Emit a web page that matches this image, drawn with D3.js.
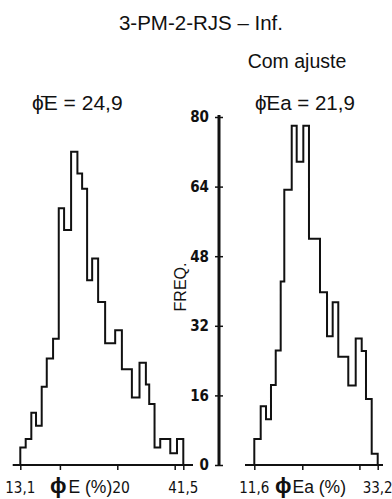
<!DOCTYPE html>
<html>
<head>
<meta charset="utf-8">
<script src="https://cdn.jsdelivr.net/npm/d3@7"></script>
<style>
  html, body { margin: 0; padding: 0; background: #fff; }
  svg { display: block; }
  .main { font-family: "Liberation Sans", Arial, sans-serif; fill: #111; }
  .narrow { font-family: "Liberation Sans Narrow", "DejaVu Sans Condensed", "Liberation Sans", sans-serif; fill: #111; }
</style>
</head>
<body>
<svg id="chart" width="392" height="499"></svg>
<script>
// Porosity histograms, well 3-PM-2-RJS (lower interval)
// Left: effective porosity phiE; right: adjusted phiEa. Bin edges in %, counts per bin.
const leftEdges = [13.1, 14.04, 15.02, 15.84, 16.83, 17.71, 18.81, 19.80, 20.73, 21.95,
                   23.05, 23.87, 24.74, 25.62, 26.66, 27.88, 29.63, 30.80, 32.54, 33.87,
                   34.98, 35.56, 36.49, 37.48, 39.23, 40.40, 41.5];
const leftFreq  = [4, 6, 12, 9, 18, 24.5, 29, 59, 54, 72,
                   67, 63.5, 42.5, 47.5, 37.5, 28, 31, 22, 15.5, 23.5,
                   18.5, 14, 4, 6, 2.7, 6];

const rightEdges = [11.6, 12.72, 13.65, 14.52, 15.35, 16.22, 16.85, 18.15, 19.02, 20.18,
                    21.17, 23.10, 24.33, 25.32, 26.30, 28.05, 29.35, 30.40, 31.15, 32.15, 33.2];
const rightFreq  = [6, 13.5, 10.5, 18.4, 26.3, 42.2, 63.3, 78, 69.7, 78,
                    52, 39.7, 29.6, 37.4, 24.9, 18.3, 29.1, 26.2, 15.2, 2.6];

const freqTicks = [0, 16, 32, 48, 64, 80];
const leftTicks = [13.1, 20, 30, 40, 41.5];
const rightTicks = [11.6, 20, 30, 33.2];

const svg = d3.select("#chart");

const y = d3.scaleLinear().domain([0, 80]).range([465, 117]);
const xL = d3.scaleLinear().domain([13.1, 41.5]).range([20.3, 183.3]);
const xR = d3.scaleLinear().domain([11.6, 33.2]).range([254.3, 377.7]);

// step outline of a histogram from its edges and counts
function stepPoints(edges, freq) {
  const pts = [[edges[0], 0]];
  freq.forEach((f, i) => { pts.push([edges[i], f]); pts.push([edges[i + 1], f]); });
  pts.push([edges[edges.length - 1], 0]);
  return pts;
}

function histogram(x, edges, freq) {
  const line = d3.line().x(d => x(d[0])).y(d => y(d[1]));
  svg.append("path")
    .attr("d", line(stepPoints(edges, freq)))
    .attr("fill", "none")
    .attr("stroke", "#111")
    .attr("stroke-width", 2)
    .attr("stroke-linejoin", "miter");
}

function baseAxis(x, ticks, x0, x1, labels) {
  const g = svg.append("g").attr("transform", `translate(0,${y(0)})`);
  g.call(d3.axisBottom(x).tickValues(ticks).tickSize(5).tickSizeOuter(0).tickFormat(""));
  g.select(".domain").remove();
  g.selectAll(".tick line").attr("stroke", "#111").attr("stroke-width", 1.5);
  g.append("line").attr("x1", x0).attr("x2", x1).attr("y1", 0).attr("y2", 0)
    .attr("stroke", "#111").attr("stroke-width", 2);
  labels.forEach(l => {
    svg.append("text").attr("class", "narrow")
      .attr("x", x(l.v)).attr("y", 493)
      .attr("text-anchor", "middle")
      .attr("font-size", 15)
      .text(l.t);
  });
}

histogram(xL, leftEdges, leftFreq);
histogram(xR, rightEdges, rightFreq);

baseAxis(xL, leftTicks, 12.7, 193, [{v: 13.1, t: "13,1"}, {v: 41.5, t: "41,5"}]);
baseAxis(xR, rightTicks, 245, 383, [{v: 11.6, t: "11,6"}, {v: 33.2, t: "33,2"}]);

// axis titles under each histogram
svg.append("text").attr("class", "main").attr("x", 50).attr("y", 493).attr("font-size", 17.5)
  .call(t => {
    t.append("tspan").attr("font-size", 22).attr("font-weight", "bold").text("ϕ");
    t.append("tspan").attr("dx", 2).text("E (%)");
    t.append("tspan").attr("class", "narrow").attr("font-size", 15.5).text("20");
  });
svg.append("text").attr("class", "main").attr("x", 275).attr("y", 493).attr("font-size", 17.5)
  .call(t => {
    t.append("tspan").attr("font-size", 22).attr("font-weight", "bold").text("ϕ");
    t.append("tspan").attr("dx", 1).text("Ea (%)");
  });

// frequency axis between the two panels
const yAxis = svg.append("g").attr("transform", "translate(219,0)")
  .call(d3.axisLeft(y).tickValues(freqTicks).tickSize(4).tickSizeOuter(0).tickPadding(6));
yAxis.select(".domain").remove();
yAxis.append("line").attr("x1", 0).attr("x2", 0).attr("y1", y(80) - 2).attr("y2", y(0) + 1)
  .attr("stroke", "#111").attr("stroke-width", 3);
yAxis.selectAll(".tick line").attr("x1", 4).attr("stroke", "#111").attr("stroke-width", 1.5);
yAxis.selectAll(".tick text")
  .attr("class", "narrow")
  .attr("font-size", 15)
  .attr("font-weight", "bold")
  .attr("fill", "#111");

svg.append("text").attr("class", "main")
  .attr("transform", "translate(186,287) rotate(-90)")
  .attr("text-anchor", "middle")
  .attr("font-size", 16)
  .text("FREQ.");

// titles and mean values
svg.append("text").attr("class", "main").attr("x", 201).attr("y", 30)
  .attr("text-anchor", "middle").attr("font-size", 20.5).text("3-PM-2-RJS – Inf.");
svg.append("text").attr("class", "main").attr("x", 297).attr("y", 68)
  .attr("text-anchor", "middle").attr("font-size", 19.5).text("Com ajuste");
svg.append("text").attr("class", "main").attr("x", 32).attr("y", 110)
  .attr("font-size", 21).text("ϕ̄E = 24,9");
svg.append("text").attr("class", "main").attr("x", 255).attr("y", 110)
  .attr("font-size", 20.5).text("ϕ̄Ea = 21,9");
</script>
</body>
</html>
